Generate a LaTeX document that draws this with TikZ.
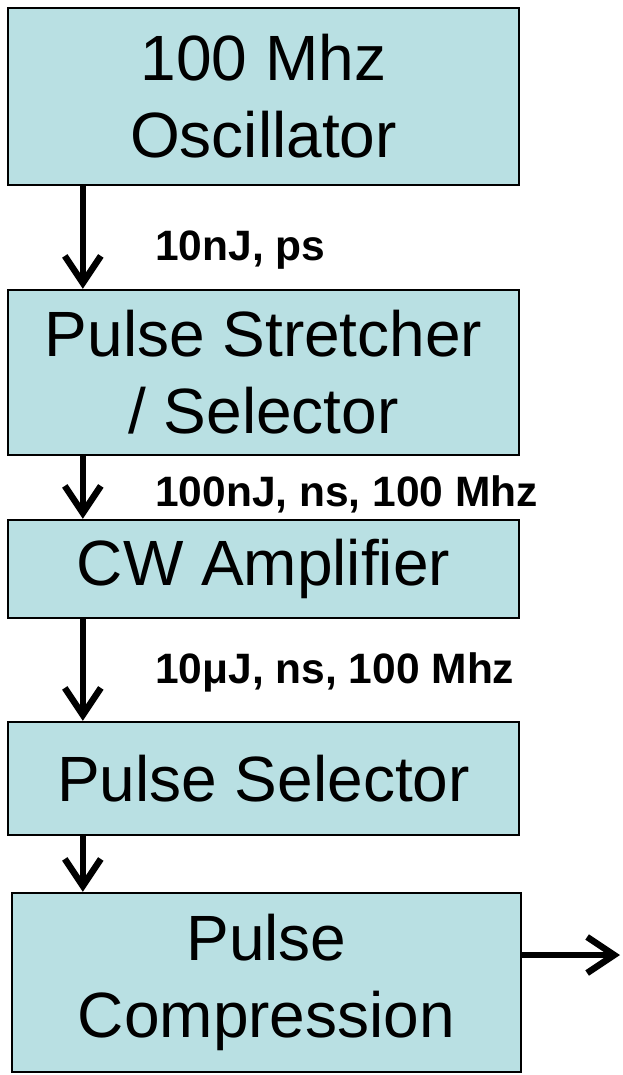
\documentclass[tikz,border=0pt]{standalone}
\usepackage{fontspec}
\setmainfont{Liberation Sans}
\usetikzlibrary{arrows.meta}
\definecolor{azzurro}{HTML}{B9E0E3}
\begin{document}
\begin{tikzpicture}[
    x=1pt,y=-1pt,
    blocco/.style={draw,line width=2.4pt,fill=azzurro,align=center,
      font=\fontsize{64}{77}\selectfont,minimum width=511pt,inner sep=0pt},
    freccia/.style={line width=6.5pt,-{Straight Barb[length=27pt,width=36pt,line width=6.5pt]}},
    didascalia/.style={font=\fontsize{42.5}{50}\selectfont\bfseries,anchor=base west,inner sep=0pt}]

  \useasboundingbox (0,0) rectangle (623,1075);

  % ---- blocchi della catena ------------------------------------------------
  \node[blocco,minimum height=177pt] (osc)     at (263.5,96.5) {100 Mhz\\Oscillator};
  \node[blocco,minimum height=165pt] (stretch) at (263.5,372.5) {Pulse Stretcher\\/ Selector};
  \node[blocco,minimum height=98pt]  (amp)     at (263.5,569) {CW Amplifier};
  \node[blocco,minimum height=113pt] (sel)     at (263.5,778.5) {Pulse Selector};
  \node[blocco,minimum height=179pt,minimum width=509pt] (compr) at (266.5,982.5) {Pulse\\Compression};

  % ---- caratteristiche degli impulsi ---------------------------------------
  \node[didascalia] (imp1) at (155,260) {10nJ, ps};
  \node[didascalia] (imp2) at (155,506) {100nJ, ns, 100 Mhz};
  \node[didascalia] (imp3) at (155,683) {10μJ, ns, 100 Mhz};

  % ---- frecce --------------------------------------------------------------
  \draw[freccia] ([xshift=76pt]osc.south west)     -- ([xshift=76pt]stretch.north west);
  \draw[freccia] ([xshift=76pt]stretch.south west) -- ([xshift=76pt]amp.north west);
  \draw[freccia] ([xshift=76pt]amp.south west)     -- ([xshift=76pt]sel.north west);
  \draw[freccia] ([xshift=76pt]sel.south west)     -- ([xshift=72pt]compr.north west);
  \coordinate (uscita) at (620,955);
  \draw[freccia] (compr.east |- uscita) -- (uscita);

\end{tikzpicture}
\end{document}
